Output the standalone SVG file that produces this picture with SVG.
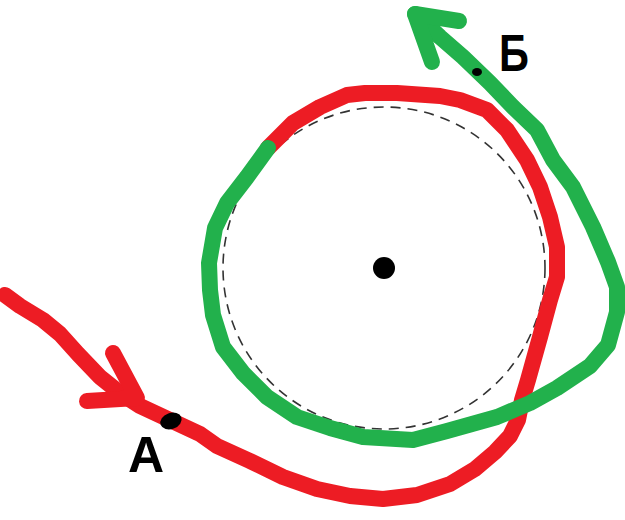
<svg xmlns="http://www.w3.org/2000/svg" width="625" height="520" viewBox="0 0 625 520">
<style>
.red{fill:none;stroke:#ED1C24;stroke-width:16;stroke-linecap:round;stroke-linejoin:round}
.green{fill:none;stroke:#22B14C;stroke-width:16;stroke-linecap:round;stroke-linejoin:round}
.lbl{font-family:"Liberation Sans",Arial,sans-serif;font-weight:bold;fill:#000}
</style>
<rect width="625" height="520" fill="#fff"/>
<g id="orbit">
<circle cx="384" cy="268" r="161" fill="none" stroke="#333" stroke-width="1.6" stroke-dasharray="10 7"/>
</g>
<g id="center"><circle cx="384" cy="268" r="11" fill="#000"/></g>
<g id="connectors">
<path class="red" d="M5,295 L20,306 L43,320 L60,334 L78,354 L100,377 L120,393 L140,406 L170,420 L200,434 L217,446 L250,461 L283,477 L317,489 L350,496 L383,499 L417,495 L450,484 L475,469 L495,452 L510,436 L518,420 L522,400 L528,380 L540,337 L550,300 L557,277 L557,247 L550,217 L540,187 L527,160 L507,130 L487,110 L460,100 L440,96 L397,93 L365,93 L347,95 L320,107 L293,123 L268,148"/>
<path class="red" d="M113,353 L137,398 L87,401"/>
<path class="green" d="M268,148 L247,177 L227,203 L215,228 L209,263 L210,290 L213,315 L223,347 L243,373 L267,397 L297,417 L330,428 L363,437 L413,440 L447,431 L497,417 L530,403 L557,388 L590,366 L608,345 L617,312 L617,287 L608,262 L593,227 L573,187 L553,160 L537,130 L513,107 L490,83 L463,57 L440,37 L415,14"/>
<path class="green" d="M459,21 L415,14 L432,62"/>
</g>
<g id="A">
<ellipse cx="171" cy="421" rx="11" ry="8" transform="rotate(-20 171 421)" fill="#000"/>
<text class="lbl" x="128" y="472" font-size="50">A</text>
</g>
<g id="B">
<ellipse cx="477" cy="72" rx="5" ry="4" fill="#000"/>
<text class="lbl" x="499" y="71" font-size="52" transform="translate(499 0) scale(0.8 1) translate(-499 0)">Б</text>
</g>
</svg>
